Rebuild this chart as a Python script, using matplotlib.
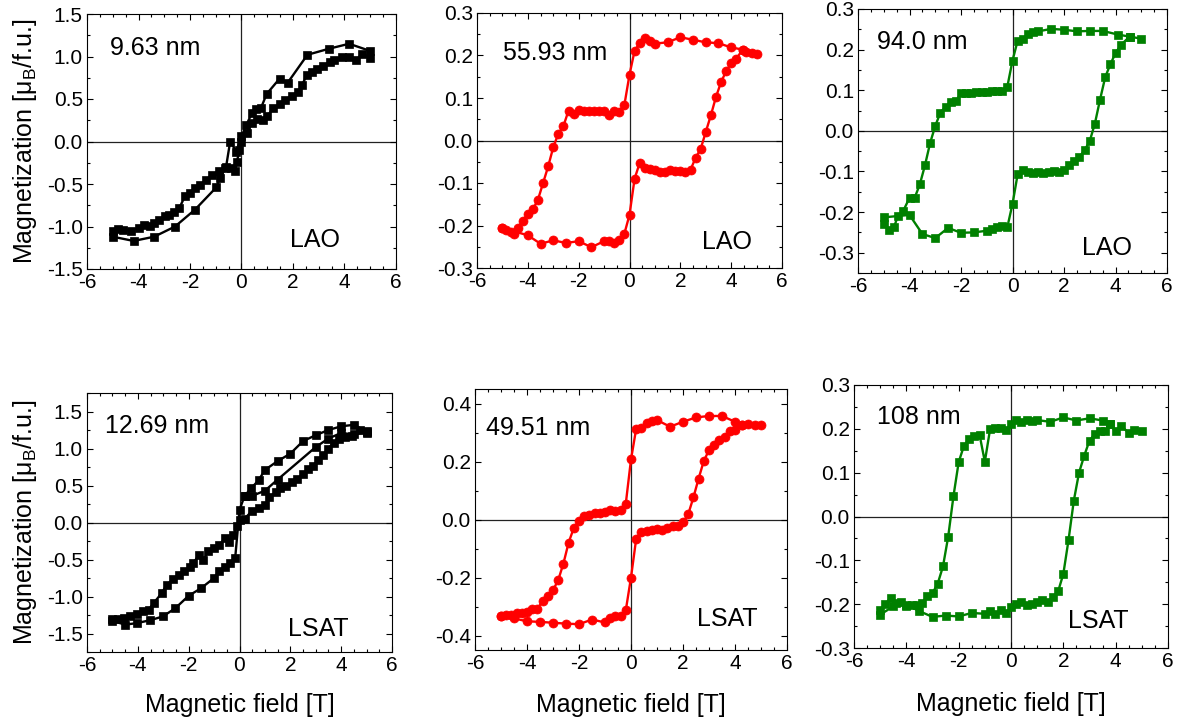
import matplotlib
matplotlib.use('Agg')
import matplotlib.pyplot as plt
from matplotlib.ticker import MultipleLocator, FormatStrFormatter

# ---------------- data ----------------
# Panel 1: 9.63 nm on LAO
p1_a_x = [5.0, 4.18, 3.38, 2.56, 1.79, 1.48, 0.98, 0.75, 0.55, 0.4, 0.18, 0.0, -0.2, -0.44, -0.6,
          -0.83, -0.98, -1.8, -2.58, -3.39, -4.19, -5.0]
p1_a_y = [1.065, 1.15, 1.09, 1.02, 0.69, 0.74, 0.56, 0.39, 0.38, 0.33, 0.19, 0.06, -0.12, 0.0, -0.30,
          -0.43, -0.54, -0.80, -1.0, -1.12, -1.17, -1.12]
p1_b_x = [-5.0, -4.8, -4.6, -4.3, -4.0, -3.8, -3.55, -3.4, -3.22, -2.96, -2.8, -2.64, -2.41, -2.19, -1.99,
          -1.8, -1.61, -1.37, -1.15, -0.89, -0.63, -0.41, -0.25, -0.18, -0.08, 0.0, 0.2, 0.42, 0.6, 0.85,
          1.0, 1.24, 1.5, 1.7, 1.95, 2.21, 2.34, 2.54, 2.73, 2.95, 3.18, 3.42, 3.6, 3.9, 4.16, 4.45, 4.67, 5.0]
p1_b_y = [-1.05, -1.03, -1.04, -1.05, -1.02, -0.98, -0.99, -0.96, -0.92, -0.88, -0.86, -0.83, -0.78, -0.64, -0.60,
          -0.55, -0.51, -0.45, -0.39, -0.35, -0.31, -0.31, -0.35, -0.24, -0.10, 0.0, 0.10, 0.22, 0.27, 0.25,
          0.30, 0.39, 0.44, 0.49, 0.54, 0.58, 0.66, 0.78, 0.82, 0.85, 0.885, 0.94, 0.96, 0.995, 1.0, 0.955, 1.03, 0.98]

# Panel 2: 55.93 nm on LAO
p2_a_x = [5.0, 4.8, 4.6, 4.45, 4.0, 3.5, 3.0, 2.5, 2.0, 1.5, 1.0, 0.8, 0.6, 0.4, 0.2, 0.0, -0.2, -0.4, -0.6, -0.8,
          -1.0, -1.2, -1.4, -1.6, -1.8, -2.0, -2.2, -2.4, -2.6, -2.8, -3.0, -3.2, -3.4, -3.6, -3.8,
          -4.0, -4.2, -4.4, -4.55, -4.65, -4.85, -5.0]
p2_a_y = [0.204, 0.206, 0.209, 0.214, 0.219, 0.229, 0.231, 0.237, 0.243, 0.231, 0.228, 0.233, 0.241, 0.229, 0.211,
          0.155, 0.084, 0.068, 0.070, 0.060, 0.070, 0.070, 0.070, 0.070, 0.070, 0.072, 0.063, 0.070, 0.034, 0.016,
          -0.016, -0.061, -0.100, -0.139, -0.162, -0.172, -0.190, -0.206, -0.219, -0.215, -0.210, -0.206]
p2_b_x = [-5.0, -4.0, -3.5, -3.0, -2.5, -2.0, -1.5, -1.0, -0.8, -0.6, -0.4, -0.2, 0.0, 0.2, 0.4, 0.6, 0.8, 1.0,
          1.2, 1.4, 1.6, 1.8, 2.0, 2.2, 2.4, 2.6, 2.8, 3.0, 3.2, 3.4, 3.6, 3.8, 4.0, 4.2, 4.45]
p2_b_y = [-0.206, -0.223, -0.243, -0.235, -0.241, -0.237, -0.251, -0.237, -0.237, -0.241, -0.235, -0.219, -0.175,
          -0.090, -0.053, -0.064, -0.067, -0.070, -0.073, -0.073, -0.069, -0.072, -0.072, -0.074, -0.069, -0.041,
          -0.020, 0.020, 0.059, 0.102, 0.137, 0.163, 0.182, 0.192, 0.214]

# Panel 3: 94.0 nm on LAO
p3_a_x = [5.0, 4.55, 4.1, 3.5, 3.0, 2.5, 2.0, 1.5, 1.0, 0.8, 0.6, 0.4, 0.2, 0.0, -0.2, -0.4, -0.6, -0.8, -1.0,
          -1.2, -1.4, -1.6, -1.8, -2.0, -2.2, -2.4, -2.6, -2.8, -3.0, -3.2, -3.4, -3.6, -3.8, -4.0, -4.25,
          -4.45, -4.6, -4.8, -5.0]
p3_a_y = [0.227, 0.232, 0.237, 0.246, 0.246, 0.245, 0.249, 0.251, 0.245, 0.243, 0.238, 0.227, 0.222, 0.173, 0.109,
          0.098, 0.099, 0.098, 0.096, 0.096, 0.095, 0.094, 0.092, 0.092, 0.073, 0.070, 0.059, 0.045, 0.012, -0.030,
          -0.085, -0.132, -0.165, -0.165, -0.198, -0.209, -0.237, -0.244, -0.229]
p3_b_x = [-5.0, -4.0, -3.5, -3.0, -2.5, -2.0, -1.5, -1.0, -0.8, -0.6, -0.4, -0.2, 0.0, 0.2, 0.4, 0.6, 0.8, 1.0,
          1.2, 1.4, 1.6, 1.8, 2.0, 2.2, 2.4, 2.6, 2.8, 3.0, 3.2, 3.4, 3.6, 3.8, 4.0, 4.2, 4.55]
p3_b_y = [-0.213, -0.207, -0.254, -0.264, -0.239, -0.251, -0.250, -0.246, -0.242, -0.236, -0.234, -0.237, -0.180,
          -0.107, -0.097, -0.101, -0.104, -0.101, -0.104, -0.101, -0.100, -0.101, -0.097, -0.085, -0.075, -0.064,
          -0.048, -0.025, 0.018, 0.077, 0.132, 0.164, 0.191, 0.211, 0.232]

# Panel 4: 12.69 nm on LSAT
p4_a_x = [5.0, 4.5, 4.0, 3.5, 3.0, 2.5, 2.0, 1.5, 1.0, 0.75, 0.45, 0.2, 0.0, -0.17, -0.37, -0.56, -0.79, -1.0,
          -1.52, -2.0, -2.53, -3.02, -3.51, -4.04, -4.5, -5.0]
p4_a_y = [1.23, 1.32, 1.30, 1.25, 1.18, 1.10, 0.93, 0.83, 0.71, 0.57, 0.46, 0.36, 0.17, -0.48, -0.55, -0.60,
          -0.65, -0.75, -0.89, -0.99, -1.16, -1.27, -1.32, -1.36, -1.38, -1.33]
p4_b_x = [-5.0, -4.8, -4.56, -4.3, -4.04, -3.8, -3.58, -3.38, -3.06, -2.86, -2.62, -2.4, -2.18, -1.94, -1.81,
          -1.61, -1.42, -1.22, -1.02, -0.79, -0.56, -0.43, -0.24, -0.1, 0.0, 0.2, 0.5, 0.75, 1.0, 1.18,
          1.42, 1.61, 1.84, 2.05, 2.27, 2.49, 2.7, 2.89, 3.1, 3.28, 3.49, 3.71, 3.91, 4.17, 4.43, 4.76, 5.0]
p4_b_y = [-1.30, -1.30, -1.29, -1.27, -1.24, -1.20, -1.18, -1.09, -0.955, -0.84, -0.77, -0.71, -0.66, -0.60, -0.55,
          -0.44, -0.50, -0.39, -0.35, -0.30, -0.21, -0.26, -0.17, -0.05, 0.03, 0.05, 0.16, 0.19, 0.23, 0.34,
          0.41, 0.46, 0.50, 0.55, 0.59, 0.65, 0.72, 0.77, 0.84, 0.91, 1.00, 1.08, 1.135, 1.16, 1.17, 1.25, 1.21]
p4_c_x = [0.2, 0.5, 1.0, 1.5, 3.0, 3.5, 4.0, 4.5, 5.0]
p4_c_y = [0.36, 0.36, 0.43, 0.58, 1.02, 1.135, 1.21, 1.19, 1.22]

# Panel 5: 49.51 nm on LSAT
p5_a_x = [5.0, 4.75, 4.5, 4.25, 4.0, 3.5, 3.0, 2.5, 2.0, 1.5, 1.0, 0.8, 0.6, 0.4, 0.2, 0.0, -0.2, -0.4, -0.6,
          -0.8, -1.0, -1.2, -1.4, -1.6, -1.8, -2.0, -2.2, -2.4, -2.6, -2.8, -3.0, -3.2, -3.4, -3.6, -3.8,
          -4.0, -4.2, -4.4, -4.6, -4.8, -5.0]
p5_a_y = [0.327, 0.325, 0.331, 0.327, 0.337, 0.357, 0.357, 0.352, 0.337, 0.320, 0.343, 0.339, 0.334, 0.314, 0.313,
          0.207, 0.055, 0.034, 0.030, 0.034, 0.026, 0.023, 0.021, 0.017, 0.011, -0.005, -0.029, -0.080, -0.152,
          -0.209, -0.244, -0.263, -0.280, -0.309, -0.310, -0.318, -0.322, -0.324, -0.328, -0.330, -0.333]
p5_b_x = [-5.0, -4.5, -4.0, -3.5, -3.0, -2.5, -2.0, -1.5, -1.0, -0.8, -0.6, -0.4, -0.2, 0.0, 0.2, 0.4, 0.6, 0.8,
          1.0, 1.2, 1.4, 1.6, 1.8, 2.0, 2.2, 2.4, 2.6, 2.8, 3.0, 3.2, 3.4, 3.6, 3.8, 4.0, 4.25]
p5_b_y = [-0.333, -0.341, -0.351, -0.353, -0.356, -0.359, -0.361, -0.345, -0.355, -0.340, -0.333, -0.333, -0.313,
          -0.200, -0.066, -0.043, -0.039, -0.037, -0.032, -0.037, -0.029, -0.023, -0.021, -0.010, 0.018, 0.076,
          0.141, 0.202, 0.239, 0.256, 0.274, 0.285, 0.305, 0.310, 0.327]

# Panel 6: 108 nm on LSAT
p6_a_x = [5.0, 4.7, 4.5, 4.2, 4.0, 3.77, 3.5, 3.0, 2.5, 2.0, 1.5, 1.0, 0.8, 0.6, 0.4, 0.2, 0.0, -0.2, -0.4,
          -0.6, -0.8, -1.0, -1.2, -1.4, -1.6, -1.8, -2.0, -2.2, -2.4, -2.6, -2.8, -3.0, -3.2, -3.4, -3.6,
          -3.8, -4.0, -4.2, -4.4, -4.6, -4.8, -5.0]
p6_a_y = [0.194, 0.197, 0.191, 0.207, 0.194, 0.211, 0.219, 0.224, 0.219, 0.226, 0.216, 0.220, 0.219, 0.220, 0.215,
          0.220, 0.211, 0.197, 0.201, 0.201, 0.199, 0.125, 0.186, 0.184, 0.177, 0.161, 0.124, 0.046, -0.046,
          -0.114, -0.153, -0.175, -0.182, -0.197, -0.201, -0.201, -0.205, -0.195, -0.197, -0.186, -0.199, -0.213]
p6_b_x = [-5.0, -4.5, -4.0, -3.5, -3.0, -2.5, -2.0, -1.5, -1.0, -0.8, -0.6, -0.4, -0.2, 0.0, 0.2, 0.4, 0.6, 0.8,
          1.0, 1.2, 1.4, 1.6, 1.8, 2.0, 2.2, 2.4, 2.6, 2.8, 3.0, 3.2, 3.4, 3.6, 3.77]
p6_b_y = [-0.224, -0.205, -0.201, -0.216, -0.229, -0.226, -0.228, -0.220, -0.222, -0.216, -0.222, -0.214, -0.220,
          -0.207, -0.199, -0.194, -0.201, -0.200, -0.196, -0.191, -0.196, -0.184, -0.171, -0.131, -0.053, 0.036,
          0.100, 0.139, 0.173, 0.188, 0.194, 0.195, 0.211]

thickness_labels = ["9.63 nm", "55.93 nm", "94.0 nm", "12.69 nm", "49.51 nm", "108 nm"]
substrate_labels = ["LAO", "LAO", "LAO", "LSAT", "LSAT", "LSAT"]
x_label = "Magnetic field [T]"
y_label = r"Magnetization [μ$_\mathregular{B}$/f.u.]"

# ---------------- style ----------------
plt.rcParams.update({
    'font.family': ['Liberation Sans', 'DejaVu Sans'],
    'axes.unicode_minus': False,
    'mathtext.fontset': 'custom',
    'mathtext.rm': 'Liberation Sans',
    'mathtext.it': 'Liberation Sans:italic',
    'mathtext.bf': 'Liberation Sans:bold',
    'xtick.direction': 'in', 'ytick.direction': 'in',
    'xtick.top': True, 'ytick.right': True,
})

BLACK = '#000000'
RED = '#ff0000'
GREEN = '#008000'

fig = plt.figure(figsize=(11.84, 7.22), dpi=100)
W, H = 1184.0, 722.0

def rect(l, r, t, b):
    return [l / W, 1 - b / H, (r - l) / W, (b - t) / H]

panels = [
    dict(r=rect(87, 396, 14, 269), branches=[(p1_a_x, p1_a_y), (p1_b_x, p1_b_y)], color=BLACK, marker='s', ms=5.6,
         ylim=(-1.5, 1.5), ymaj=0.5, t1=(0.074, 0.867), t2=(0.657, 0.114), ylab=(-0.155, 0.5), xlab=None),
    dict(r=rect(477, 782, 13, 268), branches=[(p2_a_x, p2_a_y), (p2_b_x, p2_b_y)], color=RED, marker='o', ms=6.5,
         ylim=(-0.3, 0.3), ymaj=0.1, t1=(0.085, 0.843), t2=(0.738, 0.102), ylab=None, xlab=None),
    dict(r=rect(858, 1167, 9, 273), branches=[(p3_a_x, p3_a_y), (p3_b_x, p3_b_y)], color=GREEN, marker='s', ms=5.3,
         ylim=(-0.35, 0.3), ymaj=0.1, t1=(0.061, 0.875), t2=(0.725, 0.095), ylab=None, xlab=None),
    dict(r=rect(87, 392, 393, 652), branches=[(p4_a_x, p4_a_y), (p4_b_x, p4_b_y), (p4_c_x, p4_c_y)], color=BLACK,
         marker='s', ms=5.6, ylim=(-1.75, 1.75), ymaj=0.5, t1=(0.059, 0.873), t2=(0.66, 0.089), ylab=(-0.157, 0.5),
         xlab=(0.5, -0.157)),
    dict(r=rect(475, 787, 389, 650), branches=[(p5_a_x, p5_a_y), (p5_b_x, p5_b_y)], color=RED, marker='o', ms=6.5,
         ylim=(-0.45, 0.45), ymaj=0.2, t1=(0.035, 0.85), t2=(0.71, 0.119), ylab=None, xlab=(0.5, -0.165)),
    dict(r=rect(854, 1168, 385, 648), branches=[(p6_a_x, p6_a_y), (p6_b_x, p6_b_y)], color=GREEN, marker='s', ms=5.3,
         ylim=(-0.3, 0.3), ymaj=0.1, t1=(0.073, 0.878), t2=(0.68, 0.103), ylab=None, xlab=(0.5, -0.167)),
]

for i, p in enumerate(panels):
    ax = fig.add_axes(p['r'])
    for bx, by in p['branches']:
        ax.plot(bx, by, '-', color=p['color'], marker=p['marker'], ms=p['ms'], lw=1.7,
                markeredgewidth=0.5, zorder=3)
    ax.axhline(0, color='#222222', lw=0.9, zorder=1)
    ax.axvline(0, color='#222222', lw=0.9, zorder=1)
    ax.set_xlim(-6, 6)
    ax.set_ylim(*p['ylim'])
    ax.xaxis.set_major_locator(MultipleLocator(2))
    ax.xaxis.set_minor_locator(MultipleLocator(0.5))
    ax.yaxis.set_major_locator(MultipleLocator(p['ymaj']))
    ax.yaxis.set_minor_locator(MultipleLocator(p['ymaj'] / 2))
    ax.xaxis.set_major_formatter(FormatStrFormatter('%d'))
    ax.yaxis.set_major_formatter(FormatStrFormatter('%.1f'))
    ax.tick_params(which='major', length=4.5, width=0.8, labelsize=15, pad=3)
    ax.tick_params(which='minor', length=2.5, width=0.8)
    for s in ax.spines.values():
        s.set_linewidth(0.8)
    ax.text(p['t1'][0], p['t1'][1], thickness_labels[i], transform=ax.transAxes, fontsize=18,
            ha='left', va='center')
    ax.text(p['t2'][0], p['t2'][1], substrate_labels[i], transform=ax.transAxes, fontsize=18,
            ha='left', va='center')
    if p['ylab'] is not None:
        ax.set_ylabel(y_label, fontsize=18)
        ax.yaxis.set_label_coords(*p['ylab'])
    if p['xlab'] is not None:
        ax.set_xlabel(x_label, fontsize=18)
        ax.xaxis.set_label_coords(*p['xlab'])

fig.savefig('out.png', dpi=100)
